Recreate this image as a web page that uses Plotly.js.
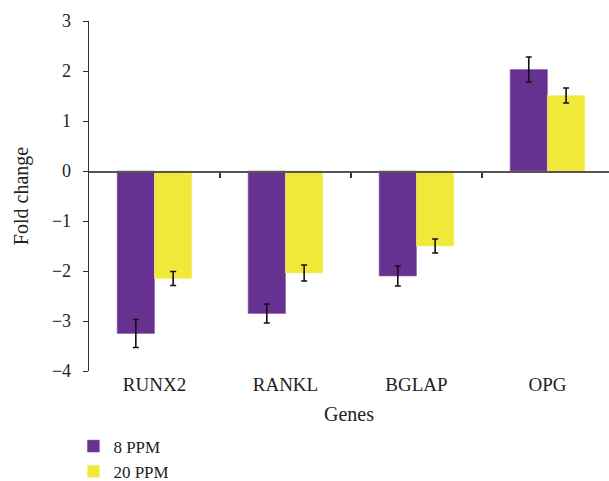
<!DOCTYPE html>
<html>
<head>
<meta charset="utf-8">
<script src="https://cdn.plot.ly/plotly-3.0.1.min.js"></script>
<style>html,body{margin:0;padding:0;background:#fff;}#chart{width:609px;height:481px;}</style>
</head>
<body>
<div id="chart"></div>
<script>
const genes = ["RUNX2", "RANKL", "BGLAP", "OPG"];
const ppm8 = [-3.25, -2.85, -2.10, 2.03];
const ppm8Err = [0.28, 0.19, 0.20, 0.25];
const ppm20 = [-2.15, -2.04, -1.50, 1.51];
const ppm20Err = [0.14, 0.16, 0.14, 0.15];
const seriesNames = ["8 PPM", "20 PPM"];
const yTicks = [-4, -3, -2, -1, 0, 1, 2, 3];
const yTickText = ["\u22124", "\u22123", "\u22122", "\u22121", "0", "1", "2", "3"];
const boundaryTicks = [0.5, 1.5, 2.5];

const font = "Liberation Serif, Times New Roman, serif";
const ink = "#222";
const errStyle = {type: "data", visible: true, color: "#111", thickness: 1.6, width: 3};

const traces = [
  {type: "bar", name: seriesNames[0], x: genes, y: ppm8,
   error_y: Object.assign({array: ppm8Err}, errStyle),
   marker: {color: "#673191", line: {color: "#8a64a8", width: 0.6}}},
  {type: "bar", name: seriesNames[1], x: genes, y: ppm20,
   error_y: Object.assign({array: ppm20Err}, errStyle),
   marker: {color: "#f0e93a", line: {color: "#f4ee80", width: 0.6}}},
  {type: "scatter", x: [], y: [], xaxis: "x2", yaxis: "y", showlegend: false, hoverinfo: "skip"}
];

const layout = {
  width: 609, height: 481,
  margin: {l: 89, r: 0, t: 21, b: 110},
  paper_bgcolor: "#fff", plot_bgcolor: "#fff",
  font: {family: font, size: 17, color: ink},
  barmode: "group", bargap: 0.43, bargroupgap: 0,
  showlegend: true,
  legend: {xref: "paper", yref: "container", x: -0.03, xanchor: "left", y: 0.109, yanchor: "top",
           orientation: "v", font: {family: font, size: 17, color: ink}},
  xaxis: {type: "category", range: [-0.5, 3.47], showline: false, ticks: "", showgrid: false,
          zeroline: false, automargin: false, tickfont: {family: font, size: 19, color: ink},
          title: {text: "Genes", font: {family: font, size: 20, color: ink}, standoff: 12}},
  xaxis2: {overlaying: "x", anchor: "free", position: 0.5714, range: [-0.5, 3.47],
           showline: true, linecolor: "#555", linewidth: 1.6, ticks: "outside", ticklen: 5,
           tickwidth: 1.6, tickcolor: "#333", tickvals: boundaryTicks, showticklabels: false,
           showgrid: false, zeroline: false, fixedrange: true},
  yaxis: {range: [-4, 3], tickvals: yTicks, ticktext: yTickText, showline: true, linecolor: "#333",
          linewidth: 1.3, ticks: "outside", ticklen: 5, tickcolor: "#333", showgrid: false,
          zeroline: false, automargin: false, ticklabelstandoff: 8,
          tickfont: {family: font, size: 18, color: ink},
          title: {text: "Fold change", font: {family: font, size: 20, color: ink}, standoff: 18}}
};

Plotly.newPlot("chart", traces, layout, {displayModeBar: false, staticPlot: true});
</script>
</body>
</html>
